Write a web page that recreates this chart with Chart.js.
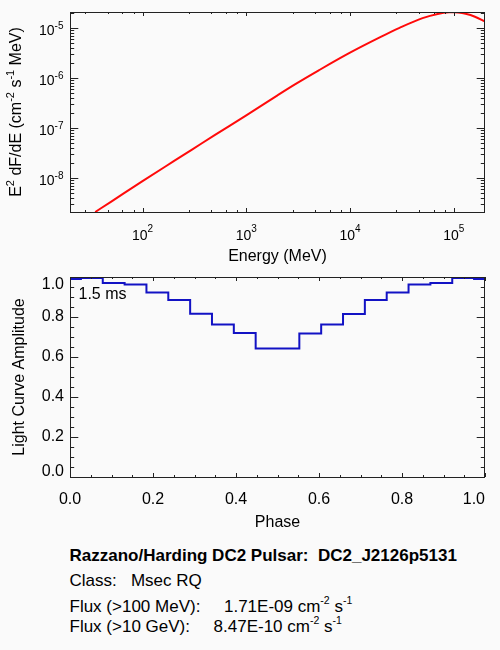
<!DOCTYPE html>
<html>
<head>
<meta charset="utf-8">
<script src="https://cdn.jsdelivr.net/npm/chart.js@4/dist/chart.umd.min.js"></script>
<style>
  html, body { margin: 0; padding: 0; background: #fafafa; }
  body { width: 500px; height: 650px; position: relative; overflow: hidden; font-family: "Liberation Sans", Arial, Helvetica, sans-serif; color: #000; }
  canvas { position: absolute; left: 0; }
  #top { top: 0; }
  #bot { top: 270px; }
  .l { position: absolute; left: 69.5px; font-size: 17px; line-height: 20px; white-space: pre; }
  .b { font-weight: bold; }
  .sup { font-size: 10.5px; position: relative; top: -8px; line-height: 0; }
</style>
</head>
<body>
<canvas id="top" width="500" height="266"></canvas>
<canvas id="bot" width="500" height="262"></canvas>
<div class="l b" style="top:546.4px">Razzano/Harding DC2 Pulsar:  DC2_J2126p5131</div>
<div class="l" style="top:571.4px">Class:   Msec RQ</div>
<div class="l" style="top:596.8px">Flux (&gt;100 MeV):     1.71E-09 cm<span class="sup">-2</span> s<span class="sup">-1</span></div>
<div class="l" style="top:616.8px">Flux (&gt;10 GeV):     8.47E-10 cm<span class="sup">-2</span> s<span class="sup">-1</span></div>
<script>
// ---------- data ----------
const energyMeV = [35, 50, 100, 200, 300, 500, 1000, 2000, 3000, 5000, 10000, 20000, 30000, 50000, 70000, 90000, 100000, 110000, 130000, 160000, 200000];
const e2dfde    = [2.1e-9, 3.40e-9, 8.71e-9, 2.18e-8, 3.72e-8, 7.33e-8, 1.80e-7, 4.53e-7, 7.66e-7, 1.43e-6, 3.22e-6, 6.73e-6, 1.01e-5, 1.58e-5, 1.92e-5, 2.07e-5, 2.08e-5, 2.05e-5, 1.93e-5, 1.69e-5, 1.36e-5];

const phase     = [0, 0.0526, 0.1053, 0.1579, 0.2105, 0.2632, 0.3158, 0.3684, 0.4211, 0.4737, 0.5263, 0.5789, 0.6316, 0.6842, 0.7368, 0.7895, 0.8421, 0.8947, 0.9474, 1.0];
const amplitude = [0.99, 0.995, 0.97, 0.962, 0.922, 0.885, 0.816, 0.762, 0.72, 0.643, 0.643, 0.718, 0.762, 0.815, 0.885, 0.922, 0.962, 0.97, 0.995, 0.99];

// tick labels
const energyTicks = [100, 1000, 10000, 100000];
const fluxTicks   = [1e-8, 1e-7, 1e-6, 1e-5];
const phaseTicks  = [0, 0.2, 0.4, 0.6, 0.8, 1.0];
const ampTicks    = [0, 0.2, 0.4, 0.6, 0.8, 1.0];
const periodLabel = '1.5 ms';

const FONT = '"Liberation Sans", Arial, Helvetica, sans-serif';
Chart.defaults.font.family = FONT;
Chart.defaults.color = '#000';

// minor tick helpers (positions only)
function logMinorLinear(min, max) { // decade split into 5 linear steps
  const out = [];
  for (let d = Math.floor(Math.log10(min)); d <= Math.ceil(Math.log10(max)); d++) {
    for (let k = 1; k <= 4; k++) { const v = Math.pow(10, d) * (1 + 1.8 * k); if (v > min && v < max) out.push(v); }
  }
  return out;
}
function logMinor(min, max) {
  const out = [];
  for (let d = Math.floor(Math.log10(min)); d <= Math.ceil(Math.log10(max)); d++) {
    for (let k = 2; k <= 9; k++) { const v = k * Math.pow(10, d); if (v > min && v < max) out.push(v); }
  }
  return out;
}
function linMinor(min, max, step) {
  const out = [];
  for (let i = 1; min + i * step < max - 1e-9; i++) out.push(min + i * step);
  return out;
}

const framePlugin = {
  id: 'frame',
  afterDatasetsDraw(chart, args, o) {
    const {ctx, chartArea: a, scales: {x, y}} = chart;
    ctx.save();
    ctx.strokeStyle = '#222';
    ctx.lineWidth = 1;
    ctx.beginPath();
    const xt = (v, len) => {
      const p = Math.round(x.getPixelForValue(v)) + 0.5;
      ctx.moveTo(p, a.bottom); ctx.lineTo(p, a.bottom - len);
      ctx.moveTo(p, a.top); ctx.lineTo(p, a.top + len);
    };
    const yt = (v, len) => {
      const p = Math.round(y.getPixelForValue(v)) + 0.5;
      ctx.moveTo(a.left, p); ctx.lineTo(a.left + len, p);
      ctx.moveTo(a.right, p); ctx.lineTo(a.right - len, p);
    };
    o.xMajor.forEach(v => xt(v, 4));
    o.xMinor.forEach(v => xt(v, 2));
    o.yMajor.forEach(v => yt(v, 8.3));
    o.yMinor.forEach(v => yt(v, 4.2));
    ctx.stroke();
    ctx.strokeRect(Math.round(a.left) + 0.5, Math.round(a.top) + 0.5, Math.round(a.right - a.left) - 1, Math.round(a.bottom - a.top));
    ctx.restore();
  },
  afterDraw(chart, args, o) {
    const {ctx, chartArea: a, scales: {x, y}} = chart;
    ctx.save();
    ctx.fillStyle = '#000';
    ctx.textBaseline = 'alphabetic';
    if (o.powerLabels) {
      const baseF = '14px ' + FONT, supF = '10px ' + FONT;
      o.xMajor.forEach(v => {
        const e = String(Math.round(Math.log10(v)));
        ctx.font = baseF; const wb = ctx.measureText('10').width;
        ctx.font = supF; const ws = ctx.measureText(e).width;
        const px = x.getPixelForValue(v);
        const s = px - (wb + ws) / 2;
        ctx.font = baseF; ctx.textAlign = 'left'; ctx.fillText('10', s, a.bottom + 28);
        ctx.font = supF; ctx.fillText(e, s + wb, a.bottom + 20.3);
      });
      o.yMajor.forEach(v => {
        const e = String(Math.round(Math.log10(v)));
        ctx.font = baseF; const wb = ctx.measureText('10').width;
        ctx.font = supF; const ws = ctx.measureText(e).width;
        const py = y.getPixelForValue(v);
        const r = a.left - 6.5;
        ctx.font = baseF; ctx.textAlign = 'left'; ctx.fillText('10', r - ws - wb, py + 7);
        ctx.font = supF; ctx.fillText(e, r - ws, py + 1.3);
      });
    }
    if (o.yTitle) {
      const mainF = '16px ' + FONT, supF = '11px ' + FONT;
      let total = 0;
      o.yTitle.forEach(([t, s]) => { ctx.font = s ? supF : mainF; total += ctx.measureText(t).width; });
      ctx.translate(o.yTitleX, (a.top + a.bottom) / 2);
      ctx.rotate(-Math.PI / 2);
      ctx.textAlign = 'left';
      let cx = -total / 2;
      o.yTitle.forEach(([t, s]) => {
        ctx.font = s ? supF : mainF;
        ctx.fillText(t, cx, s ? -7 : 0);
        cx += ctx.measureText(t).width;
      });
      ctx.setTransform(1, 0, 0, 1, 0, 0);
    }
    if (o.note) {
      ctx.font = '16px ' + FONT;
      ctx.textAlign = 'left';
      ctx.fillText(o.note, a.left + 8.5, a.top + 21.5);
    }
    ctx.restore();
  }
};

// ---------------- top chart: spectrum ----------------
const xMinE = 20, xMaxE = 2e5, yMinF = 2.1e-9, yMaxF = 2.1e-5;
new Chart(document.getElementById('top'), {
  type: 'line',
  data: {
    datasets: [{
      data: energyMeV.map((e, i) => ({x: e, y: e2dfde[i]})),
      borderColor: '#ff0a0a',
      borderWidth: 2,
      pointRadius: 0,
      cubicInterpolationMode: 'monotone',
      fill: false
    }]
  },
  options: {
    responsive: false,
    animation: false,
    devicePixelRatio: 1,
    layout: { padding: { left: 0, right: 15, top: 12, bottom: 0 } },
    plugins: {
      legend: { display: false },
      tooltip: { enabled: false },
      frame: {
        xMajor: energyTicks, xMinor: logMinorLinear(xMinE, xMaxE),
        yMajor: fluxTicks, yMinor: logMinor(yMinF, yMaxF),
        powerLabels: true,
        yTitleX: 20.7,
        yTitle: [['E', 0], ['2', 1], [' dF/dE (cm', 0], ['-2', 1], [' s', 0], ['-1', 1], [' MeV)', 0]]
      }
    },
    scales: {
      x: {
        type: 'logarithmic', min: xMinE, max: xMaxE,
        grid: { display: false, drawTicks: false }, border: { display: false },
        ticks: { display: false },
        afterBuildTicks: s => { s.ticks = energyTicks.map(v => ({value: v})); },
        title: { display: true, text: 'Energy (MeV)', font: { size: 16 }, padding: 0 },
        afterFit: s => { s.height = 54; s.paddingLeft = 0; s.paddingRight = 0; }
      },
      y: {
        type: 'logarithmic', min: yMinF, max: yMaxF,
        grid: { display: false, drawTicks: false }, border: { display: false },
        ticks: { display: false },
        afterBuildTicks: s => { s.ticks = fluxTicks.map(v => ({value: v})); },
        afterFit: s => { s.width = 70; s.paddingTop = 0; s.paddingBottom = 0; }
      }
    }
  },
  plugins: [framePlugin]
});

// ---------------- bottom chart: light curve ----------------
new Chart(document.getElementById('bot'), {
  type: 'line',
  data: {
    datasets: [{
      data: phase.map((p, i) => ({x: p, y: amplitude[i]})),
      borderColor: '#1212c4',
      borderWidth: 2,
      pointRadius: 0,
      stepped: 'middle',
      fill: false
    }]
  },
  options: {
    responsive: false,
    animation: false,
    devicePixelRatio: 1,
    layout: { padding: { left: 0, right: 15, top: 7, bottom: 0 } },
    plugins: {
      legend: { display: false },
      tooltip: { enabled: false },
      frame: {
        xMajor: phaseTicks, xMinor: linMinor(0, 1, 0.05).filter(v => Math.abs(v / 0.2 - Math.round(v / 0.2)) > 1e-6),
        yMajor: ampTicks, yMinor: linMinor(0, 1, 0.05).filter(v => Math.abs(v / 0.2 - Math.round(v / 0.2)) > 1e-6),
        note: periodLabel
      }
    },
    scales: {
      x: {
        type: 'linear', min: 0, max: 1,
        grid: { display: false, drawTicks: false }, border: { display: false },
        afterBuildTicks: s => { s.ticks = phaseTicks.map(v => ({value: v})); },
        ticks: {
          autoSkip: false, maxRotation: 0, padding: 13, font: { size: 16 },
          callback: v => v === 1 ? '1.0\u00a0\u00a0\u00a0\u00a0\u00a0' : v.toFixed(1)
        },
        title: { display: true, text: 'Phase', font: { size: 16 }, padding: 0 },
        afterFit: s => { s.height = 55; s.paddingLeft = 0; s.paddingRight = 0; }
      },
      y: {
        type: 'linear', min: 0, max: 1,
        grid: { display: false, drawTicks: false }, border: { display: false },
        afterBuildTicks: s => { s.ticks = ampTicks.map(v => ({value: v})); },
        ticks: {
          autoSkip: false, padding: 6,
          font: ctx => ({ size: 16, lineHeight: ctx.tick && ctx.tick.value === 0 ? '10px' : (ctx.tick && ctx.tick.value === 1 ? '15px' : 1.2) }),
          callback: v => v === 0 ? ['0.0', ''] : (v === 1 ? ['', '1.0'] : v.toFixed(1))
        },
        title: { display: true, text: 'Light Curve Amplitude', font: { size: 16 }, padding: { top: 10, bottom: 0 } },
        afterFit: s => { s.width = 70; s.paddingTop = 0; s.paddingBottom = 0; }
      }
    }
  },
  plugins: [framePlugin]
});
</script>
</body>
</html>
